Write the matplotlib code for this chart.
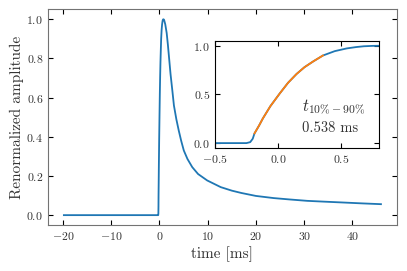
import numpy as np
import matplotlib
matplotlib.use("Agg")
import matplotlib.pyplot as plt

plt.rcParams["font.family"] = "serif"
plt.rcParams["font.serif"] = ["cmr10"]
plt.rcParams["mathtext.fontset"] = "cm"
plt.rcParams["axes.formatter.use_mathtext"] = True
plt.rcParams["text.color"] = "0.2"
plt.rcParams["axes.labelcolor"] = "0.2"
plt.rcParams["xtick.labelcolor"] = "0.2"
plt.rcParams["ytick.labelcolor"] = "0.2"

# rise of the pulse (also shown in the inset)
rise_t = [-0.5, -0.4, -0.3, -0.25, -0.22, -0.2, -0.186, -0.15, -0.12, -0.06,
          0.014, 0.08, 0.147, 0.21, 0.28, 0.356, 0.45, 0.545, 0.62, 0.68, 0.75, 0.8]
rise_y = [0.0, 0.0, 0.0, 0.0, 0.01, 0.045, 0.1, 0.18, 0.253, 0.38,
          0.51, 0.62, 0.71, 0.78, 0.84, 0.9, 0.945, 0.973, 0.987, 0.995, 0.999, 1.0]

# flat baseline before the pulse
base_t = [-19.8, -15.0, -10.0, -5.0, -1.0]
base_y = [0.0, 0.0, 0.0, 0.0, 0.0]

# decay after the peak
decay_t = [0.95, 1.2, 1.5, 1.75, 2.3, 2.7, 3.0, 3.5, 4.0, 4.5, 5.05, 5.8, 6.8, 8.0,
           9.9, 12.7, 15.0, 17.0, 20.0, 23.7, 27.0, 30.6, 34.0, 37.6, 42.0, 45.9]
decay_y = [0.998, 0.975, 0.93, 0.87, 0.72, 0.63, 0.56, 0.49, 0.432, 0.38, 0.33, 0.287,
           0.245, 0.21, 0.177, 0.143, 0.125, 0.113, 0.098, 0.087, 0.08, 0.073,
           0.069, 0.065, 0.06, 0.056]

rise_time_label = "0.538 ms"

t = np.array(base_t + rise_t + decay_t)
y = np.array(base_y + rise_y + decay_y)
rt = np.array(rise_t)
ry = np.array(rise_y)

fig = plt.figure(figsize=(4.07, 2.71), dpi=100)
ax = fig.add_axes([0.118, 0.170, 0.857, 0.795])
ax.plot(t, y, color="#1f77b4", lw=1.3)
ax.set_xlabel("time [ms]", fontsize=11, labelpad=3)
ax.set_ylabel("Renormalized amplitude", fontsize=11, labelpad=2)
ax.set_yticks([0.0, 0.2, 0.4, 0.6, 0.8, 1.0])
ax.tick_params(direction="in", top=True, right=True, labelsize=8.5, length=3.5)
for s in ax.spines.values():
    s.set_edgecolor("0.45")

ins = fig.add_axes([0.528, 0.454, 0.403, 0.395])
ins.plot(rt, ry, color="#1f77b4", lw=1.3)
m = (ry >= 0.1) & (ry <= 0.9)
ins.plot(rt[m], ry[m], color="#ff7f0e", lw=1.3)
ins.set_xlim(-0.5, 0.8)
ins.set_xticks([-0.5, 0.0, 0.5])
ins.set_yticks([0.0, 0.5, 1.0])
ins.tick_params(direction="in", top=True, right=True, labelsize=8.5, length=3.5)
for s in ins.spines.values():
    s.set_edgecolor("black")
ins.text(0.19, 0.37, r"$t_{10\%-90\%}$", fontsize=12, va="center", ha="left")
ins.text(0.19, 0.15, rise_time_label, fontsize=10.5, va="center", ha="left")

fig.savefig("out.png", dpi=100)
